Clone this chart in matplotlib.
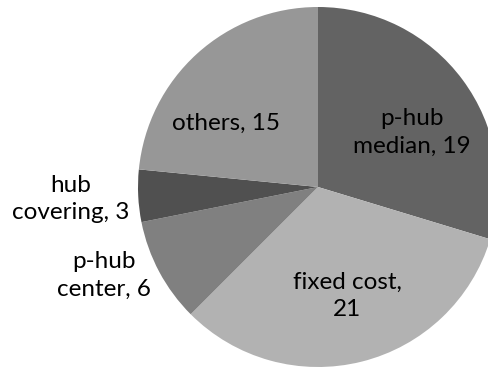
import matplotlib
matplotlib.use("Agg")
import matplotlib.pyplot as plt

# slices, clockwise from 12 o'clock
labels = ["p-hub\nmedian, 19", "fixed cost,\n21", "p-hub\ncenter, 6", "hub\ncovering, 3", "others, 15"]
values = [19, 21, 6, 3, 15]
colors = ["#636363", "#b2b2b2", "#808080", "#505050", "#979797"]

# label anchor points (pixel coords, y measured from bottom)
label_pos = [(412, 235), (347, 71), (104, 92), (71, 168), (226, 244)]

plt.rcParams["font.family"] = ["Lato", "DejaVu Sans"]

fig = plt.figure(figsize=(4.88, 3.67), dpi=100)
ax = fig.add_axes([0, 0, 1, 1])
ax.pie(values, colors=colors, startangle=90, counterclock=False,
       center=(318, 180), radius=180, frame=True,
       wedgeprops=dict(linewidth=0))
for txt, (x, y) in zip(labels, label_pos):
    ax.text(x, y, txt, ha="center", va="center", fontsize=17.5,
            color="#000000", linespacing=1.4)
ax.set_xlim(0, 488)
ax.set_ylim(0, 367)
ax.set_aspect("equal")
ax.axis("off")
fig.savefig("out.png", dpi=100)
